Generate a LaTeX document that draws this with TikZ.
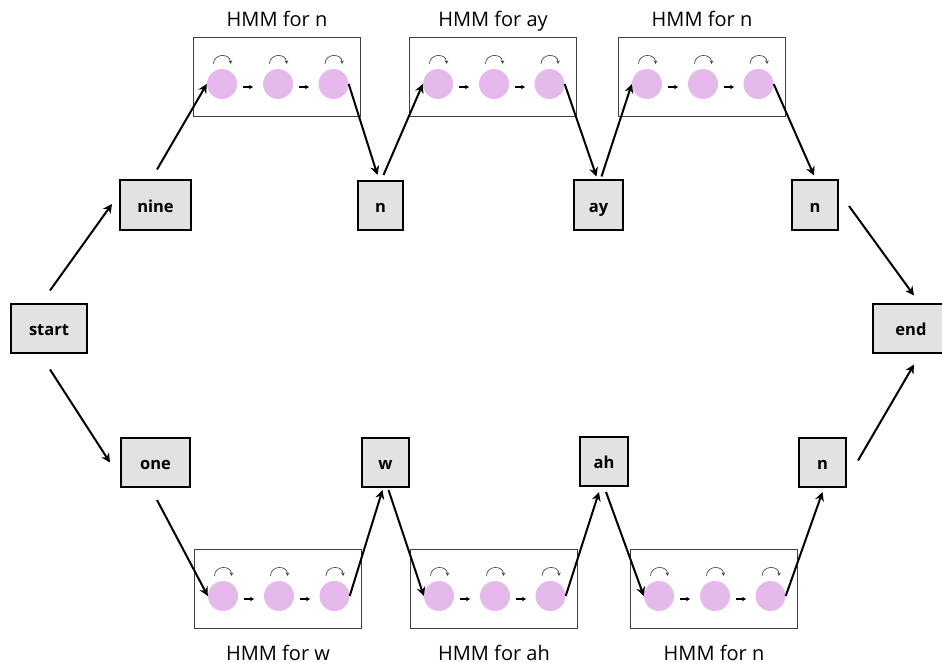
\documentclass[tikz,border=0pt]{standalone}
\usepackage{fontspec}
\setmainfont{Open Sans}
\usetikzlibrary{arrows.meta,calc}
\definecolor{boxgray}{HTML}{E2E2E2}
\definecolor{statepink}{HTML}{E6B9EC}
\tikzset{
  word/.style={draw=black, line width=2pt, fill=boxgray, minimum height=49,
    text height=16, text depth=2,
    font=\fontsize{16.5}{18}\selectfont\bfseries, inner sep=0pt},
  hmmbox/.style={draw=black!75, line width=1pt, minimum width=167, minimum height=79, inner sep=0pt},
  state/.style={circle, fill=statepink, minimum size=30, inner sep=0pt},
  conn/.style={line width=2pt, -{Stealth[length=9pt,width=9pt,inset=3pt]}},
  selfloop/.style={line width=0.7pt, draw=black!70, -{Stealth[length=3.5pt,width=3.5pt]}},
  trans/.style={line width=1.2pt, -{Stealth[length=4pt,width=4.5pt]}},
  hmmlabel/.style={font=\fontsize{20}{24}\selectfont, inner sep=0pt, anchor=base}
}
% #1 name, #2 x, #3 y, #4 label baseline y, #5 label text
\newcommand\hmmunit[5]{%
  \node[hmmbox] (#1) at (#2,#3) {};
  \foreach \k/\dx in {1/-55,2/1,3/56.5} {
    \node[state] (#1\k) at ($(#1)+(\dx,7)$) {};
    \draw[selfloop] ($(#1\k)+(-8.5,-20)$) .. controls ($(#1\k)+(-8.5,-31)$) and ($(#1\k)+(8.5,-31)$) .. ($(#1\k)+(8.5,-20)$);
  }
  \draw[trans] ($(#11)+(21,3)$) -- ($(#11)+(31,3)$);
  \draw[trans] ($(#12)+(21,3)$) -- ($(#12)+(31,3)$);
  \node[hmmlabel] (#1lab) at (#2,#4) {#5};
}
\begin{document}
\begin{tikzpicture}[x=1pt,y=-1pt]
\useasboundingbox (0,0) rectangle (942,663);

\hmmunit{ha}{277}{77}{27}{HMM for n}
\hmmunit{hb}{493}{77}{27}{HMM for ay}
\hmmunit{hc}{702}{77}{27}{HMM for n}
\hmmunit{hd}{278}{589}{660}{HMM for w}
\hmmunit{he}{494}{589}{660}{HMM for ah}
\hmmunit{hf}{714}{589}{660}{HMM for n}

\node[word, minimum width=76] (start) at (49,328) {start};
\node[word, minimum width=71] (nine) at (155.5,205) {nine};
\node[word, minimum width=45] (n1) at (380.5,205.5) {n};
\node[word, minimum width=49] (ay) at (598.5,205) {ay};
\node[word, minimum width=46] (n2) at (815,205) {n};
\node[word, minimum width=76] (end) at (911,328) {end};
\node[word, minimum width=69] (one) at (155.5,462.5) {one};
\node[word, minimum width=47] (w) at (385.5,462.5) {w};
\node[word, minimum width=48] (ah) at (604,461.5) {ah};
\node[word, minimum width=47] (n3) at (822.5,462.5) {n};

% upper path
\draw[conn] ([shift={(1,-12)}]start.north) -- ([shift={(-7,-1)}]nine.west);
\draw[conn] ([shift={(1.5,-10)}]nine.north) -- (ha1.west);
\draw[conn] (ha3.east) -- ([shift={(-3,-5)}]n1.north);
\draw[conn] ([shift={(3,-5)}]n1.north) -- (hb1.west);
\draw[conn] (hb3.east) -- ([shift={(-2,-3)}]ay.north);
\draw[conn] ([shift={(3,-3)}]ay.north) -- (hc1.west);
\draw[conn] (hc3.east) -- ([shift={(-1,-4)}]n2.north);
\draw[conn] ([shift={(10,1)}]n2.east) -- ([shift={(3,-7)}]end.north);

% lower path
\draw[conn] ([shift={(1,16)}]start.south) -- ([shift={(-10,0)}]one.west);
\draw[conn] ([shift={(1.5,12)}]one.south) -- (hd1.west);
\draw[conn] (hd3.east) -- ([shift={(-3,2)}]w.south);
\draw[conn] ([shift={(3,2)}]w.south) -- (he1.west);
\draw[conn] (he3.east) -- ([shift={(-5,5)}]ah.south);
\draw[conn] ([shift={(2,5)}]ah.south) -- (hf1.west);
\draw[conn] (hf3.east) -- ([shift={(0,4)}]n3.south);
\draw[conn] ([shift={(11,-2)}]n3.east) -- ([shift={(3,11)}]end.south);
\end{tikzpicture}
\end{document}
